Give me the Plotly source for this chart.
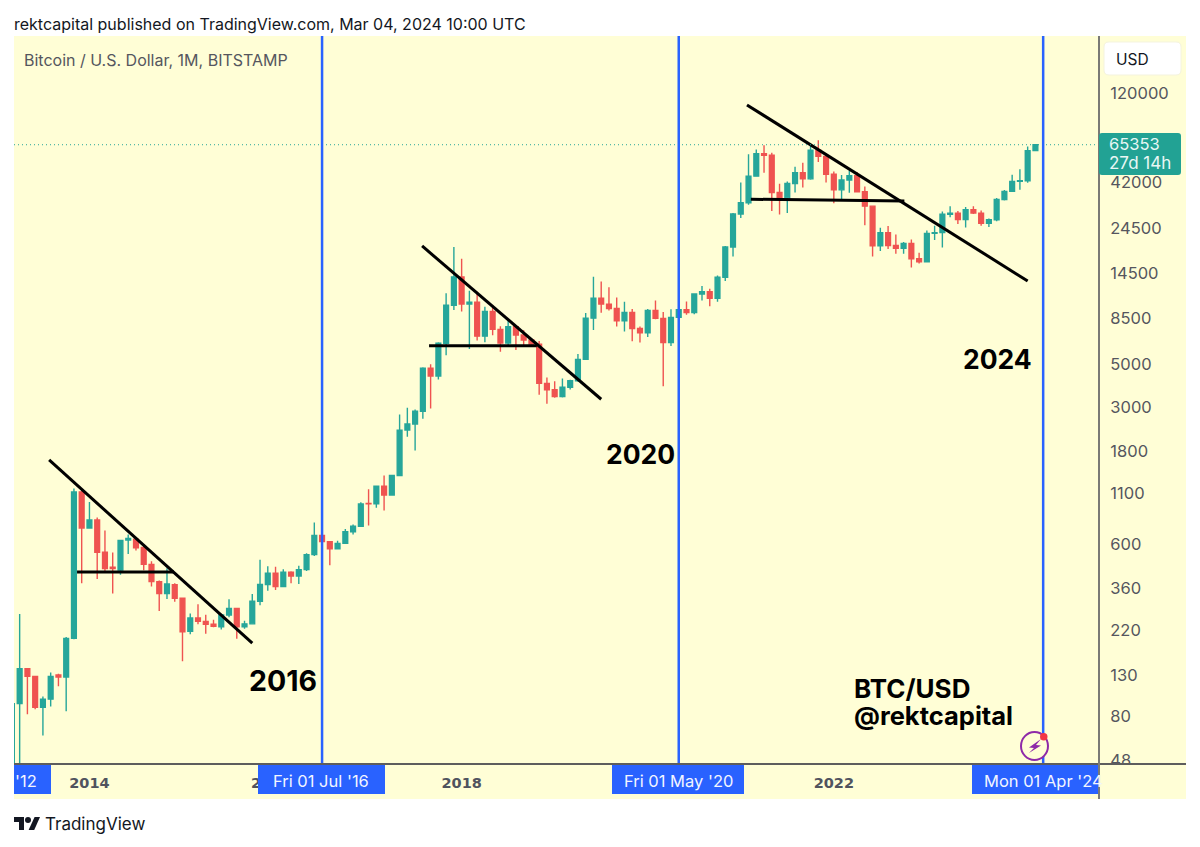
import pandas as pd
import plotly.graph_objects as go

# monthly bars, Mar 2013 .. Mar 2024
months = pd.date_range("2013-03-01", "2024-03-01", freq="MS")
bar_index = list(range(len(months)))

opens = [
    34, 93, 140, 128, 89, 98, 130, 127, 200, 1113,
    730, 802, 549, 460, 445, 634, 640, 581, 476, 389, 338, 375,
    320, 217, 254, 244, 236, 229, 263, 284, 229, 237, 309, 376,
    429, 367, 434, 415, 448, 534, 668, 622, 572, 610, 698, 745,
    972, 968, 1190, 1075, 1350, 2300, 2470, 2870, 4760, 4340, 6370, 9950,
    13850, 10100, 10300, 6920, 9240, 7490, 6390, 7730, 7010, 6620, 6300, 3980,
    3690, 3410, 3800, 4100, 5270, 8550, 10800, 10080, 9580, 8290, 9150, 7570,
    7190, 9350, 8530, 6420, 8630, 9450, 9140, 11350, 11660, 10780, 13800, 19700,
    29000, 33100, 45200, 58800, 57800, 37300, 35050, 41500, 47100, 43800, 61300, 57000,
    46200, 38500, 43200, 45500, 37650, 31800, 19950, 23300, 20050, 19420, 20500, 17150,
    16530, 23100, 23300, 28900, 29300, 27200, 30500, 29300, 26000, 27100, 34400, 37800,
    42500, 42800, 61000,
]
highs = [
    97, 266, 141, 129, 101, 134, 132, 203, 1160, 1140,
    990, 825, 708, 547, 632, 675, 655, 605, 494, 394, 455, 382,
    322, 268, 298, 264, 249, 267, 316, 285, 246, 336, 502, 466,
    463, 450, 439, 468, 543, 777, 690, 625, 628, 720, 760, 987,
    1150, 1200, 1350, 1360, 2760, 2990, 2930, 4800, 4980, 6450, 11450, 19700,
    17150, 11800, 11650, 9760, 9950, 7780, 8450, 7800, 7420, 6780, 6540, 4260,
    4080, 4210, 4150, 5610, 9090, 13880, 13150, 12300, 10900, 10350, 9530, 7750,
    9530, 10500, 9180, 9480, 10070, 10380, 11450, 12480, 12070, 14100, 19900, 29300,
    41900, 58400, 61800, 64900, 59500, 41300, 42400, 50500, 52900, 65700, 68900, 59100,
    47700, 45800, 48200, 47500, 40000, 32000, 24650, 25200, 22800, 20900, 21500, 18400,
    23900, 25250, 29900, 31800, 30000, 31500, 31800, 30200, 27500, 35000, 38400, 45900,
    49000, 64000, 65500,
]
lows = [
    33, 46, 82, 87, 64, 90, 114, 85, 198, 382,
    725, 401, 436, 338, 422, 538, 560, 445, 367, 276, 317, 307,
    153, 210, 236, 211, 228, 222, 256, 199, 224, 236, 295, 350,
    353, 366, 382, 378, 440, 526, 613, 471, 570, 606, 675, 740,
    752, 925, 895, 1070, 1345, 2130, 1810, 2630, 2960, 4165, 5530, 9400,
    9250, 5950, 6580, 6450, 7000, 5760, 6120, 5880, 6100, 6130, 3480, 3130,
    3360, 3370, 3700, 4050, 5230, 7450, 9100, 9350, 7750, 7320, 6520, 6430,
    6850, 8450, 3850, 6160, 8120, 8900, 8950, 10530, 9830, 10370, 13200, 17600,
    27700, 32300, 44900, 47000, 30000, 28800, 29300, 37300, 39600, 43300, 53300, 42000,
    32900, 34300, 37200, 37300, 25400, 17600, 18800, 19250, 18200, 18200, 15500, 16250,
    16500, 21400, 19600, 27900, 25800, 24750, 29000, 25300, 24900, 26600, 34000, 37600,
    38500, 41800, 60900,
]
closes = [
    93, 140, 128, 89, 98, 128, 127, 200, 1113, 730,
    802, 549, 453, 453, 630, 646, 579, 476, 389, 338, 378, 320,
    216, 254, 244, 236, 230, 263, 284, 229, 237, 309, 376, 429,
    367, 434, 415, 448, 534, 668, 622, 572, 609, 698, 745, 968,
    968, 1190, 1075, 1350, 2300, 2470, 2870, 4760, 4340, 6370, 9950, 13850,
    10100, 10300, 6920, 9240, 7490, 6390, 7730, 7010, 6620, 6300, 3980, 3690,
    3410, 3800, 4100, 5270, 8550, 10800, 10080, 9580, 8290, 9150, 7570, 7190,
    9350, 8530, 6420, 8630, 9450, 9140, 11350, 11660, 10780, 13800, 19700, 29000,
    33100, 45200, 58800, 57800, 37300, 35050, 41500, 47100, 43800, 61300, 57000, 46200,
    38500, 43200, 45500, 37650, 31800, 19950, 23300, 20050, 19420, 20500, 17150, 16530,
    23100, 23300, 28900, 29300, 27200, 30500, 29300, 26000, 27100, 34400, 37800, 42500,
    42800, 61000, 65353,
]

price_ticks = [120000, 42000, 24500, 14500, 8500, 5000, 3000, 1800, 1100, 600, 360, 220, 130, 80, 48]
# 2016 is cut by the blue date tag, only its first digit shows
year_labels = ["2014", "2", "2018", "2022"]
year_pos = [10, 31.5, 58, 106]
cycle_months = ["2016-07-01", "2020-05-01", "2024-04-01"]
cycle_labels = ["Fri 01 Jul '16", "Fri 01 May '20", "Mon 01 Apr '24"]

# hand drawn trendlines: (bar position, price)
trend_x = [[4.8, 31.0], [8.4, 20.9], [52.9, 76.0], [53.8, 67.7], [94.8, 131.0], [95.3, 115.1]]
trend_y = [[1620, 189], [435, 435], [19930, 3302], [6190, 6190], [104200, 13220], [34480, 33800]]

GREEN = "#26a69a"
RED = "#ef5350"
BLUE = "#2962ff"
BG = "#fffed6"
GREY = "#50535e"

L, T, R, B = 14, 36, 1099, 764


# page pixels to paper coordinates
def px(x):
    return (x - L) / (R - L)


def py(y):
    return (B - y) / (B - T)


def month_pos(m):
    d = pd.Timestamp(m)
    return (d.year - 2013) * 12 + d.month - 3


def polygon(points):
    return "M " + " L ".join(f"{px(a):.5f} {py(b):.5f}" for a, b in points) + " Z"


def rect(x0, y0, x1, y1, color, layer="above"):
    return dict(type="rect", xref="paper", yref="paper", x0=px(x0), x1=px(x1), y0=py(y0), y1=py(y1),
                fillcolor=color, line_width=0, layer=layer)


def rounded(x0, y0, x1, y1, r, color, line=None):
    p = f"M {px(x0 + r):.5f} {py(y0):.5f} L {px(x1 - r):.5f} {py(y0):.5f}"
    p += f" Q {px(x1):.5f} {py(y0):.5f} {px(x1):.5f} {py(y0 + r):.5f}"
    p += f" L {px(x1):.5f} {py(y1 - r):.5f}"
    p += f" Q {px(x1):.5f} {py(y1):.5f} {px(x1 - r):.5f} {py(y1):.5f}"
    p += f" L {px(x0 + r):.5f} {py(y1):.5f}"
    p += f" Q {px(x0):.5f} {py(y1):.5f} {px(x0):.5f} {py(y1 - r):.5f}"
    p += f" L {px(x0):.5f} {py(y0 + r):.5f}"
    p += f" Q {px(x0):.5f} {py(y0):.5f} {px(x0 + r):.5f} {py(y0):.5f} Z"
    return dict(type="path", xref="paper", yref="paper", path=p, fillcolor=color, layer="above",
                line=dict(color=line or color, width=1 if line else 0))


def text(x, y, s, size=15, color="#131722", weight=400, anchor="left", family="Inter"):
    # annotations sit about 2px inside their x
    if anchor == "left":
        x -= 2
    return dict(x=px(x), y=py(y), xref="paper", yref="paper", text=s, showarrow=False, xanchor=anchor,
                yanchor="middle", font=dict(family=family, size=size, color=color, weight=weight))


fig = go.Figure()
fig.add_trace(go.Candlestick(x=bar_index, open=opens, high=highs, low=lows, close=closes,
                             increasing=dict(fillcolor=GREEN, line=dict(color=GREEN, width=1.4)),
                             decreasing=dict(fillcolor=RED, line=dict(color=RED, width=1.4)),
                             hovertext=[m.strftime("%b %Y") for m in months], showlegend=False))
for xs, ys in zip(trend_x, trend_y):
    fig.add_trace(go.Scatter(x=xs, y=ys, mode="lines", line=dict(color="black", width=3), showlegend=False,
                             hoverinfo="skip"))

shapes = [rect(14, 36, 1186, 799, BG, "below")]
# price line
shapes.append(dict(type="line", xref="paper", yref="y", x0=0, x1=1, y0=closes[-1], y1=closes[-1],
                   line=dict(color=GREEN, width=1, dash="1px,3px")))
# cycle lines
for m in cycle_months:
    shapes.append(dict(type="line", xref="x", yref="paper", x0=month_pos(m), x1=month_pos(m), y0=0, y1=1,
                       line=dict(color=BLUE, width=2.5)))
# hide what runs past the axes
shapes.append(rect(1100, 765, 1186, 799, BG))
# frame
shapes.append(dict(type="line", xref="paper", yref="paper", x0=px(14), x1=px(1186), y0=0, y1=0,
                   line=dict(color="#5d5d5d", width=2), layer="above"))
shapes.append(dict(type="line", xref="paper", yref="paper", x0=1, x1=1, y0=py(36), y1=py(799),
                   line=dict(color="#7a7a76", width=2), layer="above"))

# date tags on the time axis
annotations = []
shapes.append(rect(14, 765, 51, 794, BLUE))
shapes.append(rect(258, 765, 385, 794, BLUE))
shapes.append(rect(612, 765, 744, 794, BLUE))
shapes.append(rect(972, 765, 1098, 794, BLUE))
annotations.append(text(15, 781, "'12", size=16.5, color="#f2f5ff"))
annotations.append(text(321, 781, cycle_labels[0], size=16.5, color="#f2f5ff", anchor="center"))
annotations.append(text(678, 781, cycle_labels[1], size=16.5, color="#f2f5ff", anchor="center"))
annotations.append(text(984, 781, cycle_labels[2], size=16.5, color="#f2f5ff"))

# USD button and price tag
shapes.append(rounded(1104, 42, 1181, 75, 5, "#ffffff", "#f4f3de"))
annotations.append(text(1116, 59, "USD", size=15.5, color="#131722"))
shapes.append(rounded(1099, 133, 1181, 175, 3, "#22a294"))
annotations.append(text(1109, 144, "65353", size=16.5, color="#e9f7f4"))
annotations.append(text(1109, 163, "27d 14h", size=17, color="#e9f7f4"))

# top and bottom texts
annotations.append(text(14, 24, "rektcapital published on TradingView.com, Mar 04, 2024 10:00 UTC", size=16))
annotations.append(text(24, 60, "Bitcoin / U.S. Dollar, 1M, BITSTAMP", size=16, color="#55565e"))
annotations.append(text(45, 824, "TradingView", size=17))

# labels written on the chart
annotations.append(text(249, 680, "2016", size=28.5, color="black", weight=700))
annotations.append(text(606, 454, "2020", size=26.5, color="black", weight=700))
annotations.append(text(963, 359, "2024", size=26.5, color="black", weight=700))
annotations.append(text(854, 688, "BTC/USD", size=26, color="black", weight=700))
annotations.append(text(854, 715, "@rektcapital", size=25.5, color="black", weight=700))

# TradingView logo
shapes.append(dict(type="path", xref="paper", yref="paper", fillcolor="#131722", line_width=0, layer="above",
                   path=polygon([(14, 817), (24, 817), (24, 830), (19, 830), (19, 822), (14, 822)])))
shapes.append(dict(type="path", xref="paper", yref="paper", fillcolor="#131722", line_width=0, layer="above",
                   path=polygon([(34.6, 817), (40, 817), (34.2, 830), (28.6, 830)])))
shapes.append(dict(type="circle", xref="paper", yref="paper", x0=px(25), x1=px(31), y0=py(817), y1=py(823),
                   fillcolor="#131722", line_width=0, layer="above"))

# lightning badge
shapes.append(dict(type="circle", xref="paper", yref="paper", x0=px(1021), x1=px(1048), y0=py(732), y1=py(760),
                   fillcolor=BG, line=dict(color="#8e2aa8", width=2), layer="above"))
shapes.append(dict(type="path", xref="paper", yref="paper", fillcolor="#8e2aa8", line_width=0, layer="above",
                   path=polygon([(1041, 739), (1029, 747.5), (1034, 748), (1029, 753), (1041, 745.5), (1036, 745)])))
shapes.append(dict(type="circle", xref="paper", yref="paper", x0=px(1040), x1=px(1047.5), y0=py(733), y1=py(740.5),
                   fillcolor="#f23645", line_width=0, layer="above"))

fig.update_layout(
    width=1200, height=847, autosize=False,
    paper_bgcolor="white", plot_bgcolor=BG,
    margin=dict(l=L, r=1200 - R, t=T, b=847 - B, pad=0),
    shapes=shapes, annotations=annotations, boxgap=0.12,
    font=dict(family="Inter", color=GREY),
    xaxis=dict(range=[0.27, 140.2], rangeslider=dict(visible=False), showgrid=False, zeroline=False,
               tickmode="array", tickvals=year_pos, ticktext=year_labels,
               ticks="outside", ticklen=6, tickcolor="rgba(0,0,0,0)",
               tickfont=dict(family="DejaVu Sans", size=14.5, color=GREY, weight=700), showline=False),
    yaxis=dict(type="log", side="right", range=[1.661, 5.369], showgrid=False, zeroline=False,
               tickmode="array", tickvals=price_ticks, ticktext=[str(v) for v in price_ticks],
               ticks="outside", ticklen=7, tickcolor="rgba(0,0,0,0)",
               tickfont=dict(family="Inter", size=16.5, color="#55565e"), showline=False),
)

fig.write_html("out.html", post_script="document.body.style.margin='0'", config=dict(displayModeBar=False))
